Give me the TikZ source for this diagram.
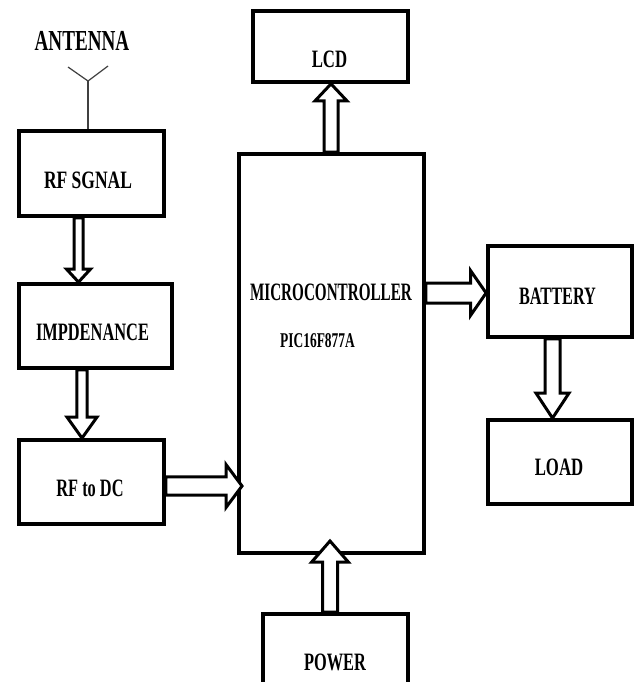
\documentclass[tikz,border=0pt]{standalone}
\usepackage{fontspec}
\setmainfont{Liberation Serif}
\usepackage{graphicx}
\usetikzlibrary{calc}
\newcommand\sqz[2]{\scalebox{#1}[1]{#2}}
% block arrow: #1 start, #2 tip, #3 shaft half width, #4 head half width, #5 head length
\newcommand\blockarrow[5]{%
  \coordinate (BAn) at ($(#2)!#5!(#1)$);
  \draw[blockarr] ($(#1)!#3!90:(#2)$) -- ($(BAn)!#3!90:(#2)$) -- ($(BAn)!#4!90:(#2)$) -- (#2)
    -- ($(BAn)!#4!-90:(#2)$) -- ($(BAn)!#3!-90:(#2)$) -- ($(#1)!#3!-90:(#2)$) -- cycle;}
\tikzset{
  box/.style={draw, line width=3.8pt, inner sep=0pt, rectangle},
  lbl/.style={font=\bfseries\fontsize{25}{25}\selectfont, inner sep=0pt},
  blockarr/.style={draw, fill=white, line width=3pt, line join=miter},
  ant/.style={line width=1.2pt, draw=black!75}
}
\begin{document}
\begin{tikzpicture}[x=1pt,y=-1pt]
\useasboundingbox (0,0) rectangle (635,682);
\clip (0,0) rectangle (635,682);
\fill[white] (0,0) rectangle (635,682);

% boxes
\node[box, minimum width=145pt, minimum height=85pt] (rf) at (91.5,173.5) {};
\node[box, minimum width=153pt, minimum height=84pt] (imp) at (95.5,326) {};
\node[box, minimum width=145pt, minimum height=84pt] (rfdc) at (91.5,482) {};
\node[box, minimum width=185pt, minimum height=399pt] (mcu) at (331.5,353.5) {};
\node[box, minimum width=155pt, minimum height=71pt] (lcd) at (330.5,46.5) {};
\node[box, minimum width=144pt, minimum height=91pt] (bat) at (560,291.5) {};
\node[box, minimum width=144pt, minimum height=84pt] (load) at (560,462) {};
\node[box, minimum width=145pt, minimum height=110pt] (pow) at (335.5,669) {};

% labels
\node[lbl, font=\bfseries\fontsize{29}{29}\selectfont] (antt) at (82,41) {\sqz{0.66}{ANTENNA}};
\node[lbl] (rft) at (88,180) {\sqz{0.70}{RF SGNAL}};
\node[lbl] (impt) at (92.5,332) {\sqz{0.656}{IMPDENANCE}};
\node[lbl] (rfdct) at (90,488) {\sqz{0.653}{RF to DC}};
\node[lbl] (lcdt) at (329.5,59) {\sqz{0.67}{LCD}};
\node[lbl] (mcut) at (331,292) {\sqz{0.607}{MICROCONTROLLER}};
\node[lbl, font=\bfseries\fontsize{21}{21}\selectfont] (pict) at (317.5,340.5) {\sqz{0.64}{PIC16F877A}};
\node[lbl] (batt) at (557.5,296) {\sqz{0.65}{BATTERY}};
\node[lbl] (loadt) at (559,467) {\sqz{0.67}{LOAD}};
\node[lbl] (powt) at (335,662) {\sqz{0.654}{POWER}};

% antenna
\coordinate (antv) at (88,81);
\coordinate (antl) at (68,67);
\coordinate (antr) at (108,66);
\draw[ant] (antv |- rf.north) -- (antv);
\draw[ant] (antl) -- (antv) -- (antr);

% block arrows
\coordinate (a1s) at (78.5,0 |- rf.south);   \coordinate (a1t) at (78.5,0 |- imp.north);
\coordinate (a2s) at (82,0 |- imp.south);    \coordinate (a2t) at (82,0 |- rfdc.north);
\coordinate (a3s) at (rfdc.east |- 0,486);   \coordinate (a3t) at (242,486);
\coordinate (a4s) at (331,0 |- mcu.north);   \coordinate (a4t) at (331,0 |- lcd.south);
\coordinate (a5s) at (mcu.east |- 0,293);    \coordinate (a5t) at (bat.west |- 0,293);
\coordinate (a6s) at (552.5,0 |- bat.south); \coordinate (a6t) at (552.5,0 |- load.north);
\coordinate (a7s) at (330,0 |- pow.north);   \coordinate (a7t) at (330,541);

\blockarrow{a1s}{a1t}{4.5pt}{12pt}{13pt}
\blockarrow{a2s}{a2t}{5.2pt}{15pt}{21pt}
\blockarrow{a3s}{a3t}{9.2pt}{21.5pt}{16pt}
\blockarrow{a4s}{a4t}{7pt}{16pt}{17pt}
\blockarrow{a5s}{a5t}{10pt}{22.5pt}{15.6pt}
\blockarrow{a6s}{a6t}{7.5pt}{16.5pt}{25pt}
\blockarrow{a7s}{a7t}{7.5pt}{18.3pt}{21pt}
\end{tikzpicture}
\end{document}
